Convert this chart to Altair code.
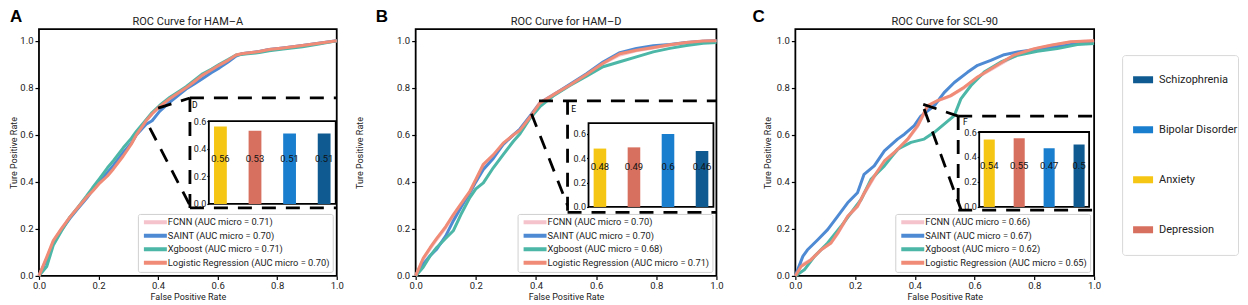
import altair as alt
import pandas as pd

FONT = "Roboto"
LETTER_FONT = "Liberation Sans"

models = ["FCNN", "SAINT", "Xgboost", "Logistic Regression"]
model_colors = ["#f4c3cb", "#4e8ad4", "#4cb6a7", "#ef8b76"]

disorders = ["Anxiety", "Depression", "Bipolar Disorder", "Schizophrenia"]
legend_order = ["Schizophrenia", "Bipolar Disorder", "Anxiety", "Depression"]
legend_colors = ["#0f5b91", "#1a7ecf", "#f6c615", "#d8705f"]

titles = ["ROC Curve for HAM–A", "ROC Curve for HAM–D", "ROC Curve for SCL-90"]
letters = ["A", "B", "C"]
tags = ["D", "E", "F"]

# ---------------- Panel A (HAM-A) ----------------
A_x = [0, 0.026, 0.048, 0.075, 0.104, 0.13, 0.16, 0.18, 0.204, 0.23, 0.25, 0.283, 0.31, 0.327,
       0.36, 0.38, 0.405, 0.44, 0.47, 0.494, 0.52, 0.55, 0.58, 0.606, 0.635, 0.662, 0.68, 0.70,
       0.74, 0.773, 0.82, 0.885, 0.94, 1.0]
A_fcnn = [0, 0.075, 0.145, 0.20, 0.25, 0.29, 0.335, 0.365, 0.40, 0.435, 0.465, 0.52, 0.565, 0.605,
          0.662, 0.69, 0.72, 0.754, 0.78, 0.80, 0.825, 0.853, 0.875, 0.896, 0.915, 0.939, 0.945,
          0.948, 0.955, 0.963, 0.97, 0.98, 0.99, 1.0]
A_saint = [0, 0.07, 0.14, 0.195, 0.245, 0.285, 0.33, 0.365, 0.40, 0.44, 0.47, 0.525, 0.565, 0.60,
           0.645, 0.66, 0.70, 0.74, 0.77, 0.795, 0.815, 0.84, 0.865, 0.885, 0.91, 0.935, 0.945,
           0.948, 0.955, 0.963, 0.97, 0.98, 0.99, 1.0]
A_xgb = [0, 0.04, 0.13, 0.19, 0.25, 0.29, 0.34, 0.375, 0.415, 0.46, 0.49, 0.545, 0.585, 0.615,
         0.665, 0.695, 0.725, 0.76, 0.785, 0.805, 0.83, 0.86, 0.88, 0.90, 0.92, 0.94, 0.942,
         0.945, 0.95, 0.958, 0.965, 0.975, 0.987, 1.0]
A_lr = [0, 0.08, 0.15, 0.20, 0.25, 0.29, 0.335, 0.36, 0.395, 0.425, 0.455, 0.51, 0.56, 0.60,
        0.66, 0.69, 0.72, 0.755, 0.78, 0.80, 0.825, 0.855, 0.877, 0.897, 0.917, 0.94, 0.945,
        0.948, 0.955, 0.963, 0.97, 0.98, 0.99, 1.0]
A_auc = ["0.71", "0.70", "0.71", "0.70"]
A_bars = [0.56, 0.53, 0.51, 0.51]

# ---------------- Panel B (HAM-D) ----------------
B_x = [0, 0.025, 0.048, 0.07, 0.10, 0.125, 0.15, 0.18, 0.20, 0.225, 0.258, 0.291, 0.325, 0.347,
       0.38, 0.413, 0.457, 0.513, 0.568, 0.623, 0.679, 0.734, 0.79, 0.845, 0.90, 0.956, 1.0]
B_fcnn = [0, 0.07, 0.115, 0.155, 0.205, 0.255, 0.30, 0.355, 0.40, 0.465, 0.51, 0.56, 0.60, 0.625,
          0.68, 0.738, 0.772, 0.813, 0.858, 0.903, 0.94, 0.958, 0.97, 0.982, 0.992, 0.998, 1.0]
B_saint = [0, 0.05, 0.086, 0.114, 0.17, 0.234, 0.29, 0.354, 0.40, 0.453, 0.50, 0.56, 0.60, 0.625,
           0.68, 0.735, 0.77, 0.815, 0.86, 0.91, 0.95, 0.968, 0.979, 0.985, 0.993, 0.998, 1.0]
B_xgb = [0, 0.037, 0.085, 0.121, 0.16, 0.192, 0.26, 0.333, 0.37, 0.396, 0.46, 0.516, 0.573, 0.605,
         0.67, 0.72, 0.765, 0.81, 0.85, 0.89, 0.911, 0.932, 0.953, 0.968, 0.98, 0.99, 0.993]
B_lr = [0, 0.075, 0.12, 0.16, 0.21, 0.26, 0.305, 0.36, 0.41, 0.475, 0.515, 0.565, 0.60, 0.62,
        0.675, 0.735, 0.77, 0.812, 0.857, 0.905, 0.945, 0.96, 0.972, 0.983, 0.993, 0.999, 1.0]
B_auc = ["0.70", "0.70", "0.68", "0.71"]
B_bars = [0.48, 0.49, 0.60, 0.46]

# ---------------- Panel C (SCL-90) ----------------
C_fcnn_x = [0, 0.019, 0.052, 0.086, 0.119, 0.142, 0.175, 0.208, 0.231, 0.264, 0.298, 0.331, 0.376,
            0.409, 0.443, 0.476, 0.52, 0.565, 0.61, 0.665, 0.732, 0.80, 0.855, 0.922, 1.0]
C_fcnn_y = [0, 0.045, 0.07, 0.11, 0.14, 0.18, 0.25, 0.295, 0.35, 0.42, 0.485, 0.52, 0.58, 0.635,
            0.72, 0.745, 0.765, 0.80, 0.845, 0.885, 0.935, 0.965, 0.98, 0.995, 1.0]
C_saint_x = [0, 0.025, 0.04, 0.075, 0.108, 0.142, 0.175, 0.208, 0.23, 0.264, 0.298, 0.342, 0.365,
             0.398, 0.42, 0.465, 0.498, 0.532, 0.576, 0.61, 0.654, 0.699, 0.744, 0.822, 0.911,
             0.967, 1.0]
C_saint_y = [0, 0.083, 0.11, 0.154, 0.197, 0.254, 0.311, 0.354, 0.432, 0.468, 0.532, 0.582, 0.603,
             0.639, 0.68, 0.724, 0.78, 0.823, 0.866, 0.896, 0.917, 0.941, 0.953, 0.967, 0.981,
             0.996, 0.996]
C_xgb_x = [0, 0.03, 0.064, 0.108, 0.153, 0.186, 0.22, 0.253, 0.298, 0.342, 0.387, 0.431, 0.465,
           0.498, 0.532, 0.554, 0.588, 0.632, 0.688, 0.744, 0.81, 0.877, 0.944, 1.0]
C_xgb_y = [0, 0.026, 0.083, 0.14, 0.211, 0.268, 0.325, 0.411, 0.468, 0.539, 0.568, 0.582, 0.611,
           0.646, 0.682, 0.753, 0.81, 0.867, 0.91, 0.939, 0.956, 0.967, 0.984, 0.989]
C_lr_x = [0, 0.019, 0.052, 0.086, 0.119, 0.142, 0.175, 0.208, 0.231, 0.264, 0.298, 0.331, 0.376,
          0.409, 0.443, 0.476, 0.52, 0.565, 0.61, 0.665, 0.732, 0.80, 0.855, 0.922, 1.0]
C_lr_y = [0, 0.04, 0.068, 0.111, 0.14, 0.183, 0.254, 0.297, 0.354, 0.425, 0.489, 0.525, 0.582,
          0.639, 0.725, 0.746, 0.767, 0.803, 0.846, 0.889, 0.94, 0.967, 0.981, 0.996, 1.0]
C_auc = ["0.66", "0.67", "0.62", "0.65"]
C_bars = [0.54, 0.55, 0.47, 0.50]

# zoom-connector dashed segments, in (FPR, TPR) units: x, y, x2, y2
segs_A = [[0.40, 0.714, 0.507, 0.757], [0.507, 0.757, 1.0, 0.757], [0.507, 0.757, 0.507, 0.289],
          [0.507, 0.289, 1.0, 0.289], [0.372, 0.63, 0.507, 0.30]]
segs_B = [[0.41, 0.745, 1.0, 0.745], [0.505, 0.745, 0.505, 0.27], [0.505, 0.27, 1.0, 0.27],
          [0.385, 0.69, 0.505, 0.30]]
segs_C = [[0.428, 0.73, 0.545, 0.68], [0.545, 0.68, 1.0, 0.68], [0.545, 0.68, 0.545, 0.28],
          [0.545, 0.28, 1.0, 0.28], [0.431, 0.71, 0.555, 0.28]]
tag_pos = [[0.523, 0.727], [0.525, 0.712], [0.569, 0.654]]

# ---------------- layout (pixels) ----------------
PLOT_H = 247
widths = [298, 301, 299]
insets = [(170, 297, 92, 175), (173, 298, 94, 178), (184, 294, 103, 178)]  # x0, x1, ytop, ybottom
bar_max = [0.6, 0.69, 0.6]
ytitle_pad = [1, 32, 4]
letter_x = [-29, -40, -43]

line_legend = alt.Legend(
    title=None, orient="bottom-right", offset=4, fillColor="white", strokeColor="#d0d0d0",
    padding=3, cornerRadius=2, symbolType="M-3.83,0H3.83", symbolSize=36, symbolStrokeWidth=4,
    symbolOffset=9.5, labelOffset=7.5, labelFontSize=9.3, labelFont=FONT, labelColor="#222",
    rowPadding=2.5, clipHeight=10.5, labelLimit=400,
)


def curve_frame(xs_list, ys_list, aucs):
    rows = []
    for m, xs, ys, auc in zip(models, xs_list, ys_list, aucs):
        lab = f"{m} (AUC micro = {auc})"
        for i, (x, y) in enumerate(zip(xs, ys)):
            rows.append({"model": lab, "fpr": x, "tpr": y, "i": i})
    return pd.DataFrame(rows)


def panel(k, xs_list, ys_list, aucs, segs, bars, show_bar_legend):
    df = curve_frame(xs_list, ys_list, aucs)
    labels = [f"{m} (AUC micro = {a})" for m, a in zip(models, aucs)]
    ticks = [0, 0.2, 0.4, 0.6, 0.8, 1.0]
    xsc = alt.Scale(domain=[0, 1], nice=False, zero=False)
    ysc = alt.Scale(domain=[0, 1.05], nice=False, zero=False)
    X = alt.X("fpr:Q", scale=xsc, title="False Positive Rate",
              axis=alt.Axis(values=ticks, format=".1f", labelFlush=False, titlePadding=2,
                            tickSize=3.5, labelPadding=1.5))
    Y = alt.Y("tpr:Q", scale=ysc, title="Ture Positive Rate",
              axis=alt.Axis(values=ticks, format=".1f", titlePadding=ytitle_pad[k]))
    lines = alt.Chart(df).mark_line(strokeWidth=3, strokeJoin="round").encode(
        x=X, y=Y,
        color=alt.Color("model:N", scale=alt.Scale(domain=labels, range=model_colors),
                        legend=line_legend),
        order="i:Q",
    )
    seg_df = pd.DataFrame(segs, columns=["fpr", "tpr", "fpr2", "tpr2"])
    rules = alt.Chart(seg_df).mark_rule(color="black", strokeWidth=2.8, strokeDash=[14, 10]).encode(
        x=alt.X("fpr:Q", title="False Positive Rate"),
        y=alt.Y("tpr:Q", title="Ture Positive Rate"),
        x2="fpr2:Q", y2="tpr2:Q",
    )
    tag_df = pd.DataFrame({"fpr": [tag_pos[k][0]], "tpr": [tag_pos[k][1]], "t": [tags[k]]})
    tag_text = alt.Chart(tag_df).mark_text(fontSize=8.5, font=FONT, color="black").encode(
        x=alt.X("fpr:Q", title="False Positive Rate"),
        y=alt.Y("tpr:Q", title="Ture Positive Rate"),
        text="t:N",
    )
    letter_df = pd.DataFrame({"t": [letters[k]]})
    letter_text = alt.Chart(letter_df).mark_text(
        font=LETTER_FONT, fontSize=17, fontWeight="bold", align="left", baseline="alphabetic",
        color="black").encode(text="t:N", x=alt.value(letter_x[k]), y=alt.value(-7))
    main = alt.layer(lines, rules, tag_text, letter_text)

    x0, x1, yt, yb = insets[k]
    frame_df = pd.DataFrame({"a": [0], "b": [1]})
    frame = alt.Chart(frame_df).mark_rect(fillOpacity=0, stroke="black", strokeWidth=1.8).encode(
        x=alt.X("a:Q", scale=alt.Scale(domain=[0, 1], range=[x0, x1], nice=False, zero=False), axis=None),
        x2="b:Q",
        y=alt.Y("a:Q", scale=alt.Scale(domain=[0, 1], range=[yb, yt], nice=False, zero=False), axis=None),
        y2="b:Q",
    )

    bdf = pd.DataFrame({"disorder": disorders, "auc": bars})
    bx = alt.X("disorder:N", scale=alt.Scale(domain=disorders, range=[x0, x1],
                                            paddingInner=0.63, paddingOuter=0.15), axis=None)
    if show_bar_legend:
        bleg = alt.Legend(title=None, orient="none", legendX=327, legendY=26, direction="vertical",
                          padding=0, fillColor="white", strokeColor="#d8d8d8", cornerRadius=3,
                          symbolType="M-1,-0.35H1V0.35H-1Z", symbolSize=400, symbolStrokeWidth=0,
                          symbolOffset=11, labelFontSize=11, labelFont=FONT, labelColor="#222",
                          rowPadding=0, clipHeight=49.5, labelOffset=6, labelLimit=200)
    else:
        bleg = None
    bar = alt.Chart(bdf).mark_bar().encode(
        x=bx,
        y=alt.Y("auc:Q", title=None,
                scale=alt.Scale(domain=[0, bar_max[k]], range=[yb, yt], nice=False, zero=True),
                axis=alt.Axis(orient="left", offset=-x0, values=[0, 0.2, 0.4, 0.6], format=".1f",
                              title=None, tickSize=2, labelPadding=1, labelFontSize=9,
                              domain=False, labelFlush=False)),
        color=alt.Color("disorder:N", scale=alt.Scale(domain=legend_order, range=legend_colors),
                        legend=bleg),
    )
    vals = alt.Chart(bdf).mark_text(fontSize=9.5, font=FONT, baseline="alphabetic", color="#111").encode(
        x=bx, y=alt.datum(0.3, title=None), text=alt.Text("auc:Q", format=".2~f"),
    )
    inset_layer = alt.layer(bar, vals)

    return alt.layer(main, frame, inset_layer).resolve_scale(
        x="independent", y="independent", color="independent"
    ).properties(
        width=widths[k], height=PLOT_H,
        title=alt.TitleParams(titles[k], font=FONT, fontSize=11, fontWeight="normal",
                              color="#222", offset=4, dy=23, frame="group", anchor="middle"),
    )


pA = panel(0, [A_x, A_x, A_x, A_x], [A_fcnn, A_saint, A_xgb, A_lr], A_auc, segs_A, A_bars, False)
pB = panel(1, [B_x, B_x, B_x, B_x], [B_fcnn, B_saint, B_xgb, B_lr], B_auc, segs_B, B_bars, False)
pC = panel(2, [C_fcnn_x, C_saint_x, C_xgb_x, C_lr_x], [C_fcnn_y, C_saint_y, C_xgb_y, C_lr_y],
           C_auc, segs_C, C_bars, True)

chart = alt.hconcat(pA, pB, pC, spacing=79, bounds="flush").resolve_scale(
    color="independent"
).properties(padding={"top": -1, "left": 0, "right": 0, "bottom": 0}).configure_view(
    stroke="black", strokeWidth=1.8
).configure_axis(
    labelFont=FONT, titleFont=FONT, labelFontSize=9.5, titleFontSize=9, titleFontWeight="normal",
    labelColor="#222", titleColor="#222", tickColor="black", tickSize=4, tickWidth=1.2,
    labelPadding=2, domain=False, grid=False,
).configure_legend(labelFont=FONT)

chart.save("out.html", embed_options={"renderer": "svg", "actions": False})
